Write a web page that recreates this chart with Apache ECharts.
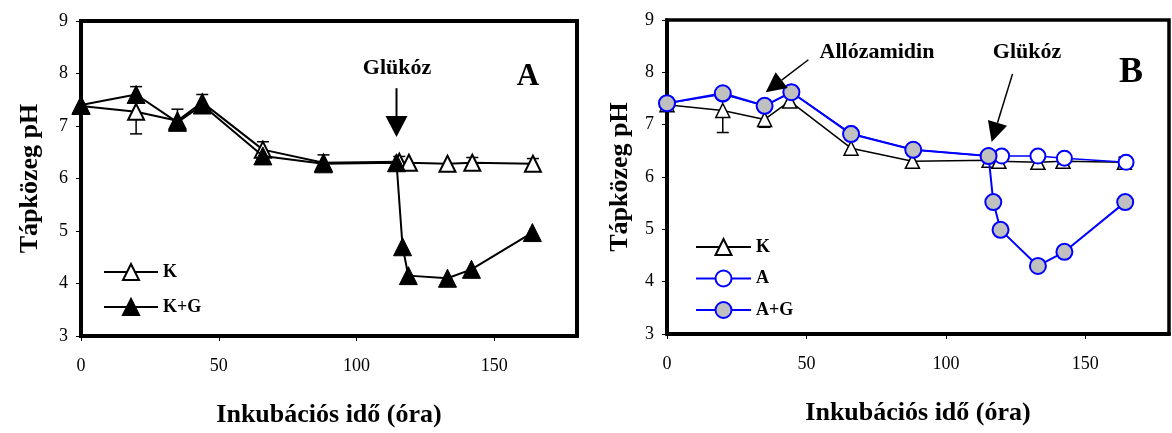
<!DOCTYPE html>
<html>
<head>
<meta charset="utf-8">
<script src="https://cdn.jsdelivr.net/npm/echarts@6/dist/echarts.min.js"></script>
<style>
  html, body { margin: 0; padding: 0; background: #fff; }
  #main { width: 1172px; height: 433px; }
</style>
</head>
<body>
<div id="main"></div>
<script>
// control (K), same in both panels
const kX = [0, 20, 35, 44, 66, 88, 115.5, 119, 133, 142, 164];
const kY = [7.38, 7.27, 7.1, 7.45, 6.55, 6.3, 6.32, 6.3, 6.28, 6.3, 6.28];
// control + glucose (panel A)
const kgX = [0, 20, 35, 44, 66, 88, 114.5, 116.7, 118.8, 133, 141.7, 163.8];
const kgY = [7.4, 7.6, 7.07, 7.4, 6.43, 6.28, 6.3, 4.7, 4.15, 4.1, 4.27, 4.97];
// allozamidin (panel B)
const aX = [0, 20, 35, 44.6, 66, 88.3, 115.3, 120, 133, 142.5, 164.6];
const aY = [7.41, 7.58, 7.36, 7.62, 6.83, 6.52, 6.4, 6.4, 6.4, 6.36, 6.28];
// allozamidin + glucose (panel B)
const agX = [0, 20, 35, 44.6, 66, 88.3, 115.3, 117, 119.6, 133, 142.5, 164.3];
const agY = [7.41, 7.6, 7.36, 7.62, 6.82, 6.52, 6.4, 5.52, 4.99, 4.3, 4.57, 5.52];

// error bars: [x, from, to]
const kErr = [[20, 7.27, 6.85], [35, 7.1, 6.95], [115.5, 6.32, 6.42], [142, 6.3, 6.4], [164, 6.28, 6.38]];
const kgErr = [[20, 7.6, 7.75], [35, 7.07, 7.32], [44, 7.4, 7.6], [66, 6.43, 6.7], [88, 6.28, 6.45]];

// annotation arrows: [x1, y1, x2 (tip), y2 (tip)]
const arrowsA = [[114.5, 7.72, 114.5, 6.79]];
const arrowsB = [[50.7, 8.24, 35.4, 7.62], [123.9, 7.97, 116.4, 6.67]];

const xTicks = [0, 50, 100, 150];
const yTicks = [3, 4, 5, 6, 7, 8, 9];

const zip = (xs, ys) => xs.map((x, i) => [x, ys[i]]);
const serif = "'Liberation Serif', 'DejaVu Serif', serif";

function errRender(params, api) {
  const x = api.value(0);
  const a = api.coord([x, api.value(1)]);
  const b = api.coord([x, api.value(2)]);
  const w = 6;
  const st = { stroke: "#000", lineWidth: 1.5 };
  return {
    type: "group",
    children: [
      { type: "line", shape: { x1: a[0], y1: a[1], x2: b[0], y2: b[1] }, style: st },
      { type: "line", shape: { x1: b[0] - w, y1: b[1], x2: b[0] + w, y2: b[1] }, style: st },
    ],
  };
}

function arrowRender(lw, len, half) {
  return function (params, api) {
    const p = api.coord([api.value(0), api.value(1)]);
    const t = api.coord([api.value(2), api.value(3)]);
    const dx = t[0] - p[0], dy = t[1] - p[1];
    const d = Math.sqrt(dx * dx + dy * dy);
    const ux = dx / d, uy = dy / d;
    const bx = t[0] - ux * len, by = t[1] - uy * len;
    return {
      type: "group",
      children: [
        { type: "line", shape: { x1: p[0], y1: p[1], x2: bx, y2: by }, style: { stroke: "#000", lineWidth: lw } },
        {
          type: "polygon",
          shape: { points: [[t[0], t[1]], [bx - uy * half, by + ux * half], [bx + uy * half, by - ux * half]] },
          style: { fill: "#000" },
        },
      ],
    };
  };
}

function xAxis(gi) {
  return {
    type: "value",
    gridIndex: gi,
    min: 0,
    max: 180,
    interval: 50,
    name: "Inkubációs idő (óra)",
    nameLocation: "middle",
    nameGap: 66,
    nameTextStyle: { fontFamily: serif, fontWeight: "bold", fontSize: 26, color: "#000" },
    axisLine: { show: true, lineStyle: { color: "#000", width: 4 } },
    axisTick: { show: true, length: 5, lineStyle: { color: "#000", width: 1 } },
    axisLabel: {
      margin: 21,
      fontFamily: serif,
      fontSize: 18,
      color: "#000",
      showMaxLabel: false,
      formatter: (v) => (xTicks.includes(v) ? String(v) : ""),
    },
    splitLine: { show: false },
  };
}

function yAxis(gi, gap) {
  return {
    type: "value",
    gridIndex: gi,
    min: 3,
    max: 9,
    interval: 1,
    name: "Tápközeg pH",
    nameLocation: "middle",
    nameGap: gap,
    nameTextStyle: { fontFamily: serif, fontWeight: "bold", fontSize: 26, color: "#000" },
    axisLine: { show: true, lineStyle: { color: "#000", width: 4 } },
    axisTick: { show: true, length: 5, lineStyle: { color: "#000", width: 1 } },
    axisLabel: {
      margin: 13,
      fontFamily: serif,
      fontSize: 18,
      color: "#000",
      formatter: (v) => (yTicks.includes(v) ? String(v) : ""),
    },
    splitLine: { show: false },
  };
}

const option = {
  animation: false,
  backgroundColor: "#fff",
  grid: [
    { left: 81, top: 21, width: 496, height: 315, show: true, borderColor: "#000", borderWidth: 4, backgroundColor: "transparent" },
    { left: 667, top: 20, width: 502, height: 314, show: true, borderColor: "#000", borderWidth: 3.5, backgroundColor: "transparent" },
  ],
  xAxis: [xAxis(0), xAxis(1)],
  yAxis: [yAxis(0, 38), yAxis(1, 34)],
  legend: [
    {
      left: 103, top: 263, orient: "vertical", padding: 0,
      itemWidth: 54, itemHeight: 20, itemGap: 17,
      data: ["K", "K+G"],
      textStyle: { fontFamily: serif, fontWeight: "bold", fontSize: 18, color: "#000" },
    },
    {
      left: 695, top: 238, orient: "vertical", padding: 0,
      itemWidth: 55, itemHeight: 20, itemGap: 13.5,
      data: ["K_B", "A", "A+G"],
      formatter: (n) => n.replace("_B", ""),
      textStyle: { fontFamily: serif, fontWeight: "bold", fontSize: 18, color: "#000" },
    },
  ],
  graphic: [
    { type: "text", x: 397, y: 68, style: { text: "Glükóz", fill: "#000", font: "bold 22px " + serif, align: "center", verticalAlign: "middle" } },
    { type: "text", x: 528, y: 77, style: { text: "A", fill: "#000", font: "bold 31px " + serif, align: "center", verticalAlign: "middle" } },
    { type: "text", x: 877, y: 52, style: { text: "Allózamidin", fill: "#000", font: "bold 22px " + serif, align: "center", verticalAlign: "middle" } },
    { type: "text", x: 1027, y: 52, style: { text: "Glükóz", fill: "#000", font: "bold 22px " + serif, align: "center", verticalAlign: "middle" } },
    { type: "text", x: 1131, y: 73, style: { text: "B", fill: "#000", font: "bold 36px " + serif, align: "center", verticalAlign: "middle" } },
  ],
  series: [
    // panel A
    {
      type: "custom", xAxisIndex: 0, yAxisIndex: 0, z: 1, silent: true,
      renderItem: errRender, data: kErr.concat(kgErr),
    },
    {
      type: "custom", xAxisIndex: 0, yAxisIndex: 0, z: 5, silent: true,
      renderItem: arrowRender(2, 21, 11), data: arrowsA,
    },
    {
      name: "K", type: "line", xAxisIndex: 0, yAxisIndex: 0, z: 2,
      data: zip(kX, kY),
      symbol: "triangle", symbolSize: 16, showAllSymbol: true,
      lineStyle: { color: "#000", width: 2 },
      itemStyle: { color: "#fff", borderColor: "#000", borderWidth: 2 },
    },
    {
      name: "K+G", type: "line", xAxisIndex: 0, yAxisIndex: 0, z: 3,
      data: zip(kgX, kgY),
      symbol: "triangle", symbolSize: 18, showAllSymbol: true,
      lineStyle: { color: "#000", width: 2 },
      itemStyle: { color: "#000", borderColor: "#000", borderWidth: 1 },
    },
    // panel B
    {
      type: "custom", xAxisIndex: 1, yAxisIndex: 1, z: 1, silent: true,
      renderItem: errRender, data: kErr,
    },
    {
      type: "custom", xAxisIndex: 1, yAxisIndex: 1, z: 5, silent: true,
      renderItem: arrowRender(1.5, 20, 10), data: arrowsB,
    },
    {
      name: "K_B", type: "line", xAxisIndex: 1, yAxisIndex: 1, z: 2,
      data: zip(kX, kY),
      symbol: "triangle", symbolSize: 14, showAllSymbol: true,
      lineStyle: { color: "#000", width: 1.5 },
      itemStyle: { color: "#fff", borderColor: "#000", borderWidth: 1.5 },
    },
    {
      name: "A", type: "line", xAxisIndex: 1, yAxisIndex: 1, z: 3,
      data: zip(aX, aY),
      symbol: "circle", symbolSize: 15, showAllSymbol: true,
      lineStyle: { color: "#0000ff", width: 1.5 },
      itemStyle: { color: "#fff", borderColor: "#0000ff", borderWidth: 2 },
    },
    {
      name: "A+G", type: "line", xAxisIndex: 1, yAxisIndex: 1, z: 4,
      data: zip(agX, agY),
      symbol: "circle", symbolSize: 16, showAllSymbol: true,
      lineStyle: { color: "#0000ff", width: 2 },
      itemStyle: { color: "#c0c0c0", borderColor: "#0000ff", borderWidth: 2 },
    },
  ],
};

const chart = echarts.init(document.getElementById("main"));
chart.setOption(option);
</script>
</body>
</html>
